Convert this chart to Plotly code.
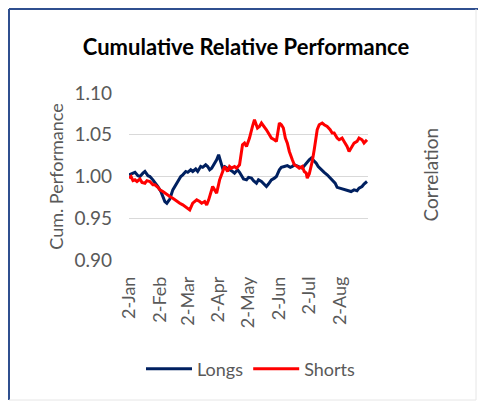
import datetime as dt
import plotly.graph_objects as go

start = dt.date(2023, 1, 2)

longs_offsets = [0, 3, 6, 9, 11, 14, 16, 19, 21, 24, 27, 29, 32, 34, 36, 38, 41, 44, 47, 49,
                 52, 54, 57, 59, 62, 64, 67, 69, 72, 74, 77, 79, 81, 83, 86, 88, 90, 92, 94, 96,
                 99, 102, 104, 106, 109, 111, 113, 115, 118, 120, 123, 125, 128, 130, 133, 136,
                 138, 140, 143, 146, 148, 151, 153, 156, 159, 162, 164, 166, 169, 172, 174, 176,
                 179, 181, 183, 185, 188, 190, 193, 196, 199, 202, 205, 207, 209, 212, 215, 218,
                 220, 223, 226, 229, 231, 234, 236, 239]
longs_values = [1.002, 1.004, 1.005, 1.001, 1.000, 1.004, 1.006, 1.001, 1.000, 0.996, 0.992,
                0.988, 0.982, 0.976, 0.970, 0.968, 0.973, 0.984, 0.990, 0.994, 1.000, 1.002,
                1.006, 1.005, 1.008, 1.006, 1.009, 1.006, 1.012, 1.011, 1.014, 1.012, 1.008,
                1.010, 1.016, 1.020, 1.026, 1.018, 1.010, 1.012, 1.010, 1.008, 1.006, 1.004,
                1.008, 1.005, 1.000, 0.997, 0.996, 0.999, 0.998, 0.995, 0.992, 0.996, 0.994,
                0.990, 0.988, 0.991, 0.996, 0.998, 1.000, 1.008, 1.011, 1.012, 1.013, 1.011,
                1.012, 1.014, 1.012, 1.011, 1.010, 1.013, 1.018, 1.020, 1.022, 1.020, 1.016,
                1.012, 1.008, 1.005, 1.002, 0.998, 0.995, 0.992, 0.987, 0.986, 0.985, 0.984,
                0.983, 0.982, 0.984, 0.983, 0.986, 0.988, 0.991, 0.994]

shorts_offsets = [0, 2, 4, 6, 8, 11, 13, 16, 18, 21, 24, 26, 29, 31, 34, 36, 39, 41, 44, 46,
                  49, 51, 54, 56, 59, 61, 64, 66, 68, 71, 73, 76, 78, 80, 82, 84, 86, 88, 91,
                  93, 96, 99, 101, 103, 106, 108, 111, 114, 116, 118, 121, 124, 126, 129, 131,
                  133, 136, 138, 141, 143, 146, 148, 151, 153, 155, 157, 159, 161, 164, 166,
                  169, 171, 174, 176, 178, 179, 181, 184, 186, 189, 191, 194, 196, 199, 202,
                  204, 206, 209, 211, 214, 216, 219, 221, 224, 226, 229, 231, 234, 236, 239]
shorts_values = [0.998, 1.000, 0.995, 0.996, 0.994, 0.997, 0.993, 0.992, 0.995, 0.994, 0.990,
                 0.990, 0.987, 0.984, 0.982, 0.980, 0.978, 0.976, 0.974, 0.972, 0.970, 0.968,
                 0.966, 0.964, 0.962, 0.960, 0.968, 0.970, 0.972, 0.970, 0.968, 0.970, 0.966,
                 0.972, 0.980, 0.988, 0.984, 0.980, 0.996, 1.002, 1.012, 1.006, 1.012, 1.010,
                 1.012, 1.010, 1.014, 1.038, 1.040, 1.036, 1.046, 1.060, 1.068, 1.058, 1.060,
                 1.064, 1.060, 1.056, 1.050, 1.046, 1.044, 1.042, 1.064, 1.062, 1.058, 1.046,
                 1.040, 1.030, 1.020, 1.014, 1.012, 1.010, 1.012, 1.006, 1.004, 0.998, 1.003,
                 1.018, 1.032, 1.056, 1.062, 1.064, 1.062, 1.060, 1.056, 1.052, 1.052, 1.046,
                 1.044, 1.046, 1.042, 1.036, 1.030, 1.036, 1.040, 1.042, 1.046, 1.044, 1.040,
                 1.044]

tick_dates = ["2023-01-02", "2023-02-02", "2023-03-02", "2023-04-02",
              "2023-05-02", "2023-06-02", "2023-07-02", "2023-08-02"]
tick_labels = ["2-Jan", "2-Feb", "2-Mar", "2-Apr", "2-May", "2-Jun", "2-Jul", "2-Aug"]

longs_dates = [start + dt.timedelta(days=d) for d in longs_offsets]
shorts_dates = [start + dt.timedelta(days=d) for d in shorts_offsets]

FONT = "Lato"
GRAY = "#595959"

fig = go.Figure()
fig.add_trace(go.Scatter(x=longs_dates, y=longs_values, mode="lines", name="Longs",
                         line=dict(color="#002060", width=3)))
fig.add_trace(go.Scatter(x=shorts_dates, y=shorts_values, mode="lines", name="Shorts",
                         line=dict(color="#FF0000", width=3)))

L, R, T, B = 129, 110, 93, 143
W, H = 478, 403
pw, ph = W - L - R, H - T - B

def px(p):
    return (p - L) / pw

def py(q):
    return (H - B - q) / ph

fig.update_layout(
    width=W, height=H,
    margin=dict(l=L, r=R, t=T, b=B),
    paper_bgcolor="white", plot_bgcolor="white",
    font=dict(family=FONT, color=GRAY),
    title=dict(text="<b>Cumulative Relative Performance</b>", xref="container",
               x=246 / W, xanchor="center", yref="container",
               y=1 - 47 / H, yanchor="middle",
               font=dict(family=FONT, size=22, color="#000000")),
    showlegend=True,
    legend=dict(orientation="h", x=px(251), xanchor="center", y=py(369), yanchor="middle",
                font=dict(family=FONT, size=18, color=GRAY), itemwidth=46,
                bgcolor="rgba(0,0,0,0)"),
    xaxis=dict(type="date", range=[start, start + dt.timedelta(days=240)],
               tickvals=tick_dates, ticktext=tick_labels, tickangle=-90,
               tickfont=dict(family=FONT, size=18, color=GRAY), ticklabelstandoff=12,
               showgrid=False, showline=False, zeroline=False, ticks=""),
    yaxis=dict(range=[0.90, 1.10], dtick=0.05, tick0=0.90, tickformat=".2f",
               tickfont=dict(family=FONT, size=19, color=GRAY), ticklabelstandoff=16,
               gridcolor="#D9D9D9", gridwidth=1, zeroline=False, showline=False,
               title=dict(text="Cum. Performance", font=dict(family=FONT, size=18, color=GRAY),
                          standoff=6)),
    annotations=[dict(text="Correlation", xref="paper", yref="paper", x=px(443), y=py(175),
                      textangle=-90, showarrow=False,
                      font=dict(family=FONT, size=19, color=GRAY))],
    shapes=[
        dict(type="line", xref="paper", yref="paper", x0=px(9), x1=px(9), y0=py(9), y1=py(400),
             line=dict(color="#2F4F8F", width=2)),
        dict(type="line", xref="paper", yref="paper", x0=px(9), x1=px(478), y0=py(9), y1=py(9),
             line=dict(color="#2F4F8F", width=2)),
        dict(type="line", xref="paper", yref="paper", x0=px(476), x1=px(476), y0=py(9), y1=py(400),
             line=dict(color="#E6E6E6", width=1)),
        dict(type="line", xref="paper", yref="paper", x0=px(9), x1=px(476), y0=py(400), y1=py(400),
             line=dict(color="#E6E6E6", width=1)),
    ],
)

fig.write_html("out.html")
